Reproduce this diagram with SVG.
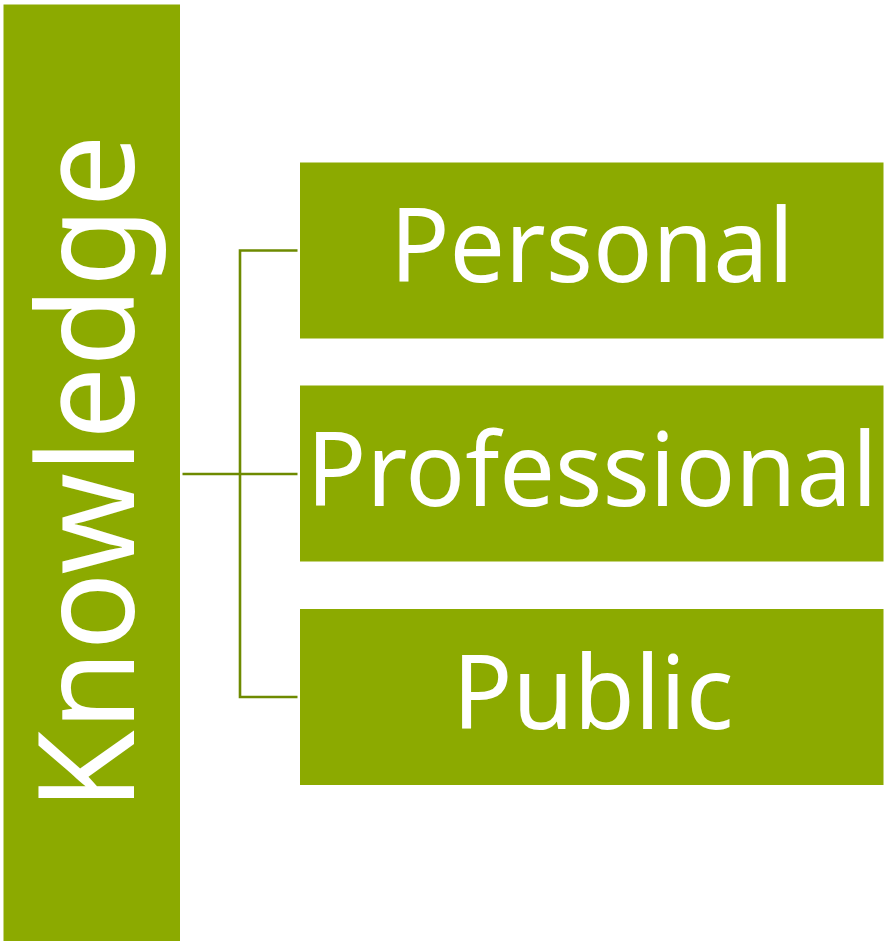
<svg xmlns="http://www.w3.org/2000/svg" width="884" height="941" viewBox="0 0 884 941">
  <style>
    .box { fill: #8CAA00; }
    .lbl { fill: #FFFFFF; font-family: "Noto Sans", "Open Sans", "Liberation Sans", sans-serif; text-anchor: middle; }
    .conn { fill: none; stroke: #6E8A00; stroke-width: 2.6; }
  </style>
  <rect x="0" y="0" width="884" height="941" fill="#FFFFFF"/>
  <g id="connectors">
    <path class="conn" d="M297.5 250.5 H240 V697 H297.5"/>
    <path class="conn" d="M182.5 474 H297.5"/>
  </g>
  <g id="knowledge">
    <rect class="box" x="3.5" y="4.5" width="176.5" height="937"/>
    <text class="lbl" transform="translate(134 472.5) rotate(-90)" font-size="134" textLength="676" lengthAdjust="spacingAndGlyphs">Knowledge</text>
  </g>
  <g id="personal">
    <rect class="box" x="300" y="162.5" width="583.5" height="176"/>
    <text class="lbl" x="592" y="282" font-size="103" textLength="404" lengthAdjust="spacingAndGlyphs">Personal</text>
  </g>
  <g id="professional">
    <rect class="box" x="300" y="385.5" width="583.5" height="176"/>
    <text class="lbl" x="592" y="505.5" font-size="103" textLength="571" lengthAdjust="spacingAndGlyphs">Professional</text>
  </g>
  <g id="public">
    <rect class="box" x="300" y="609" width="583.5" height="176"/>
    <text class="lbl" x="593" y="729" font-size="103" textLength="281" lengthAdjust="spacingAndGlyphs">Public</text>
  </g>
</svg>
